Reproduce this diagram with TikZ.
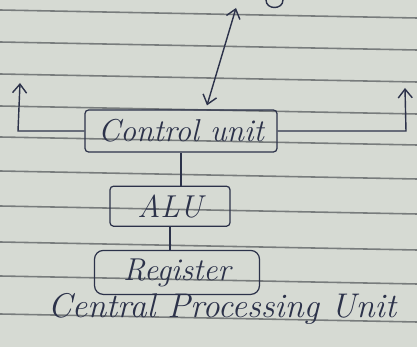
\documentclass[tikz,border=0pt]{standalone}
\usetikzlibrary{calc}
\usetikzlibrary{positioning}
\usetikzlibrary{arrows.meta}
\definecolor{paper}{RGB}{214,218,211}
\definecolor{pageline}{RGB}{120,124,124}
\definecolor{ink}{RGB}{44,50,74}
\tikzset{x=0.02cm, y=-0.02cm, % one unit is one pixel of the photo
  node distance=0.6cm,
  every node/.style={           align=center, text=ink,
},
         unit/.style={ % Sets the properties for each box
           draw=ink, line width=0.7pt,
           rounded corners=2pt, inner sep=0pt,
           font=\fontsize{18}{20}\selectfont\itshape},
         link/.style={  % Sets the properties for each plain line
           draw=ink, line width=0.8pt},
         bus/.style={link, -{Straight Barb[length=5pt,width=8pt]}}}

\begin{document}
\begin{tikzpicture}
  \fill [paper] (0,0) rectangle (417,347);
  \useasboundingbox (0,0) rectangle (417,347);
  % ruled lines of the page
  \foreach \r in {10,42,74,106,137,171,206,242,276,314}
    \draw [pageline, line width=0.9pt] (0,\r) -- (417,\r+8);

  \node [unit, minimum width=3.84cm, minimum height=0.84cm] (ucontrol) at (181,131) {Control unit};
  \node [unit, below=0.66cm of ucontrol, xshift=-0.22cm, minimum width=2.4cm, minimum height=0.8cm] (ualu) {ALU};
  \node [unit, below=0.46cm of ualu, xshift=0.14cm, minimum width=3.3cm, minimum height=0.88cm, rounded corners=5pt] (ureg) {Register};
  \node [font=\fontsize{19.5}{22}\selectfont\itshape] (ucpu) at (222,309) {Central Processing Unit};

  \draw [link] (ucontrol.south) -- (ucontrol.south |- ualu.north);
  \draw [link] (ualu.south) -- (ualu.south |- ureg.north);

  \coordinate (lcorner) at (18,131);
  \coordinate (ltip) at (20,83);
  \draw [bus] (ucontrol.west) -- (lcorner) -- (ltip);
  \coordinate (rcorner) at (406,131);
  \coordinate (rtip) at (405,88);
  \draw [bus] (ucontrol.east) -- (rcorner) -- (rtip);

  \coordinate (memtip) at (236,8);
  \draw [bus, {Straight Barb[length=5pt,width=8pt]}-{Straight Barb[length=5pt,width=8pt]}] ($(ucontrol.north)+(26,-4)$) -- (memtip);

  % tail of a letter cut off at the top
  \draw [link] (266,0) .. controls (266,10) and (283,10) .. (283,0);
\end{tikzpicture}
\end{document}
